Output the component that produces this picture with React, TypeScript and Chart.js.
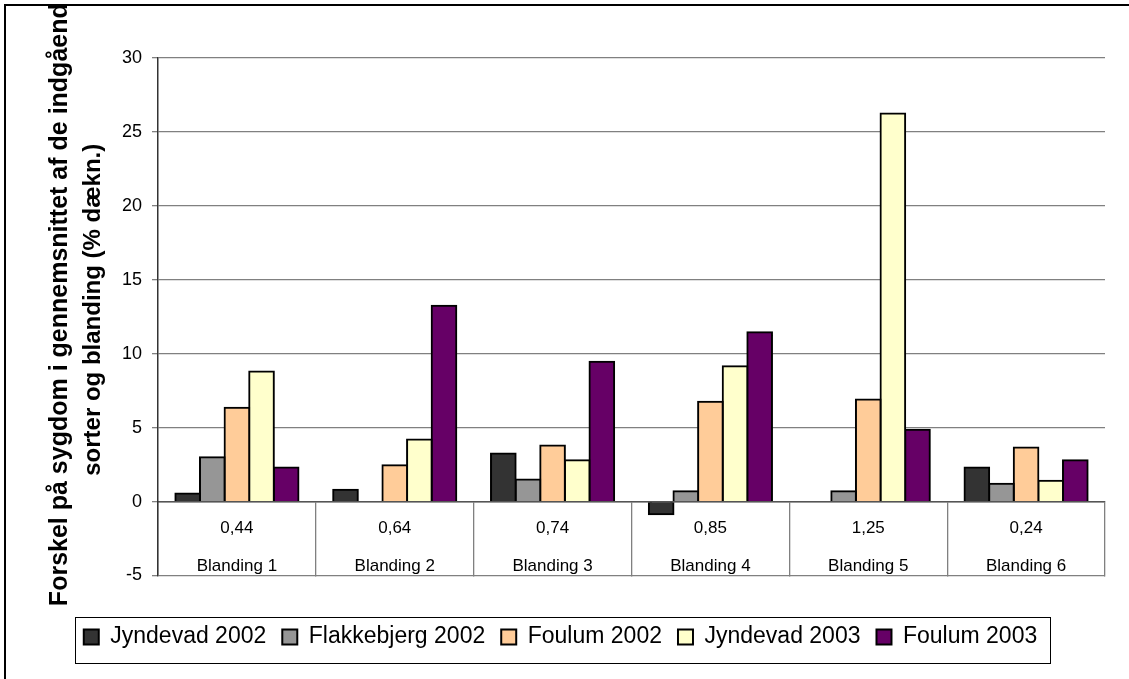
import React, { useEffect, useRef } from 'react';
import { Chart, registerables } from 'chart.js';

Chart.register(...registerables);

const FONT = '"Liberation Sans", Arial, Helvetica, sans-serif';
Chart.defaults.font.family = FONT;

// ---- data ----
const mixtures = ['Blanding 1', 'Blanding 2', 'Blanding 3', 'Blanding 4', 'Blanding 5', 'Blanding 6'];
const ratios = ['0,44', '0,64', '0,74', '0,85', '1,25', '0,24'];
const seriesNames = ['Jyndevad 2002', 'Flakkebjerg 2002', 'Foulum 2002', 'Jyndevad 2003', 'Foulum 2003'];
const jyndevad2002 = [0.55, 0.8, 3.25, -0.85, null, 2.3];
const flakkebjerg2002 = [3.0, null, 1.5, 0.7, 0.7, 1.2];
const foulum2002 = [6.35, 2.45, 3.8, 6.75, 6.9, 3.65];
const jyndevad2003 = [8.8, 4.2, 2.8, 9.15, 26.25, 1.4];
const foulum2003 = [2.3, 13.25, 9.45, 11.45, 4.85, 2.8];
const yMin = -5;
const yMax = 30;
const yStep = 5;
const yTitleLines = ['Forskel på sygdom i gennemsnittet af de indgående', 'sorter og blanding (% dækn.)'];

const seriesValues = [jyndevad2002, flakkebjerg2002, foulum2002, jyndevad2003, foulum2003];
const seriesColors = ['#333333', '#969696', '#FFCC99', '#FFFFCC', '#660066'];

const frameAndTitlePlugin = {
  id: 'frameAndTitle',
  afterDraw(chart: any) {
    const ctx = chart.ctx as CanvasRenderingContext2D;
    const area = chart.chartArea;
    const cy = (area.top + area.bottom) / 2 - 9;
    // y-axis title (two rotated lines)
    ctx.save();
    ctx.beginPath();
    ctx.rect(6, 6, chart.width, chart.height);
    ctx.clip();
    ctx.fillStyle = '#000';
    ctx.textAlign = 'center';
    ctx.textBaseline = 'alphabetic';
    const xs = [67, 100];
    const sizes = [25, 24];
    const shifts = [-10, 2];
    yTitleLines.forEach((t, i) => {
      ctx.save();
      ctx.font = 'bold ' + sizes[i] + 'px ' + FONT;
      ctx.translate(xs[i], cy + shifts[i]);
      ctx.rotate(-Math.PI / 2);
      ctx.fillText(t, 0, 0);
      ctx.restore();
    });
    ctx.restore();

    // legend frame
    const lg = chart.legend;
    if (lg && lg.legendHitBoxes && lg.legendHitBoxes.length) {
      const hb = lg.legendHitBoxes;
      const first = hb[0];
      const last = hb[hb.length - 1];
      const left = Math.round(first.left - 9) + 0.5;
      const right = Math.round(last.left + last.width + 13) + 0.5;
      const top = Math.round(first.top - 8.5) + 0.5;
      const bottom = Math.round(first.top + 37.5) + 0.5;
      ctx.save();
      ctx.strokeStyle = '#000';
      ctx.lineWidth = 1;
      ctx.strokeRect(left, top, right - left, bottom - top);
      ctx.restore();
    }

    // outer frame (only left and top edges fall inside the picture)
    ctx.save();
    ctx.strokeStyle = '#000';
    ctx.lineWidth = 2;
    ctx.beginPath();
    ctx.moveTo(5, chart.height + 5);
    ctx.lineTo(5, 5);
    ctx.lineTo(chart.width + 5, 5);
    ctx.stroke();
    ctx.restore();
  },
};

export default function App() {
  const ref = useRef<HTMLCanvasElement>(null);

  useEffect(() => {
    const labels = ratios.map((r, i) => [r, mixtures[i]]);
    const datasets = seriesNames.map((name, i) => ({
      label: name,
      data: seriesValues[i],
      backgroundColor: seriesColors[i],
      borderColor: '#000000',
      borderWidth: 2,
      inflateAmount: 1,
      xAxisID: 'x',
      yAxisID: 'y',
      barPercentage: 1.0,
      categoryPercentage: 0.78,
    }));

    const chart = new Chart(ref.current as HTMLCanvasElement, {
      type: 'bar',
      data: { labels, datasets } as any,
      options: {
        animation: false,
        responsive: true,
        maintainAspectRatio: false,
        layout: { padding: { top: 58, right: 24, bottom: 20.5, left: 16 } },
        plugins: {
          legend: {
            position: 'bottom',
            labels: {
              boxWidth: 15,
              boxHeight: 15,
              padding: 16,
              color: '#000',
              font: { size: 23, family: FONT },
            },
          },
          tooltip: { enabled: false },
          title: { display: false },
        },
        scales: {
          x: {
            type: 'category',
            position: { y: 0 } as any,
            offset: true,
            grid: {
              display: true,
              drawOnChartArea: false,
              drawTicks: true,
              tickLength: 74,
              color: '#808080',
              lineWidth: 1.3,
              offset: true,
            },
            border: { display: true, color: '#555555', width: 1.5 },
            ticks: {
              color: '#000',
              font: { size: 17, family: FONT, lineHeight: 2.235 },
              padding: -66,
              maxRotation: 0,
              minRotation: 0,
              autoSkip: false,
            },
          },
          x2: {
            type: 'category',
            position: 'bottom',
            grid: { display: false },
            border: { display: false },
            ticks: { display: false },
            afterFit: (s: any) => {
              s.height = 34;
            },
          },
          y: {
            type: 'linear',
            min: yMin,
            max: yMax,
            ticks: {
              stepSize: yStep,
              color: '#000',
              font: { size: 18, family: FONT },
              padding: 10,
            },
            grid: { color: '#808080', lineWidth: 1.3, tickLength: 6 },
            border: { display: true, color: '#333333', width: 1.5 },
            afterFit: (s: any) => {
              s.width = 142;
            },
          },
        },
      } as any,
      plugins: [frameAndTitlePlugin],
    });
    return () => chart.destroy();
  }, []);

  return (
    <div
      style={{
        position: 'fixed',
        left: 0,
        top: 0,
        width: 1129,
        height: 679,
        background: '#ffffff',
        overflow: 'hidden',
      }}
    >
      <canvas ref={ref} />
    </div>
  );
}
